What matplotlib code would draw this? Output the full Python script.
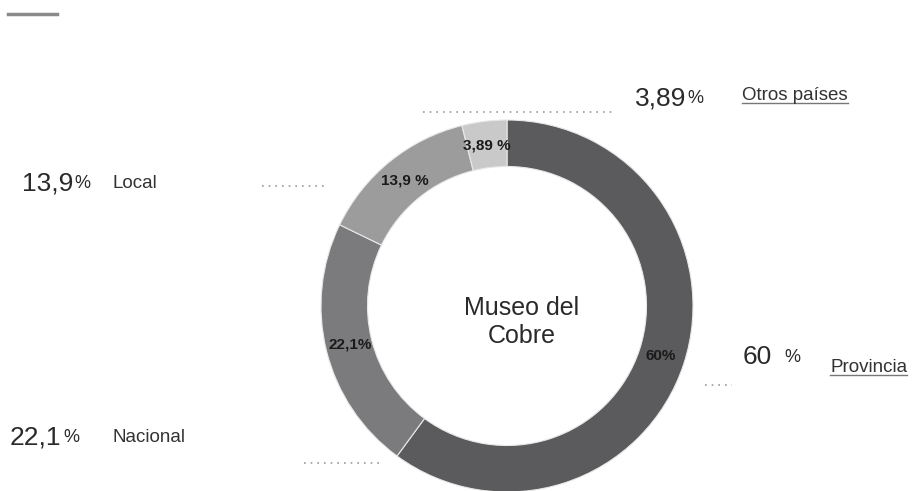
import numpy as np
import matplotlib.pyplot as plt

plt.rcParams['font.family'] = ['Liberation Sans', 'DejaVu Sans']

# 数据
categories = ["Provincia", "Nacional", "Local", "Otros países"]
values = [60, 22.1, 13.9, 3.89]
inner_labels = ["60%", "22,1%", "13,9 %", "3,89 %"]
outer_numbers = ["60", "22,1", "13,9", "3,89"]
colors = ["#5b5b5d", "#7b7b7d", "#9c9c9d", "#c9c9c9"]

W, H = 916, 491
fig = plt.figure(figsize=(W / 100, H / 100), dpi=100)
ax = fig.add_axes([0, 0, 1, 1])

# 环形图（像素坐标，y 向上）
cx, cy, R = 507, H - 306, 186
ring = 0.25
wedges, _ = ax.pie(
    values, colors=colors, startangle=90, counterclock=False,
    radius=R, center=(cx, cy),
    wedgeprops=dict(width=R * ring, edgecolor="#e8e8e8", linewidth=0.8),
)
ax.set_xlim(0, W)
ax.set_ylim(0, H)
ax.set_aspect("auto")
ax.axis("off")

# 环内标签
total = sum(values)
ang = 90.0
for val, lab in zip(values, inner_labels):
    span = 360.0 * val / total
    mid = np.deg2rad(ang - span / 2)
    r = R * 0.87
    ax.text(cx + r * np.cos(mid), cy + r * np.sin(mid), lab,
            ha="center", va="center", fontsize=11, fontweight="bold",
            color="#1a1a1a")
    ang -= span

ax.text(cx + 15, cy - 16, "Museo del\nCobre", ha="center", va="center",
        fontsize=18, color="#2a2a2a", linespacing=1.2)

# 外部标签：数字 + % + 类别
outer = {
    # 类别: (数字x, y, %间距, 类别x, 类别y, 下划线)
    "Otros países": (635, 98, 1, 742, 95, True),
    "Local": (22, 183, 1, 113, 183, False),
    "Provincia": (743, 357, 9, 830, 367, True),
    "Nacional": (10, 437, 1, 113, 437, False),
}
for cat, num in zip(categories, outer_numbers):
    nx, ny, gap, tx, ty, ul = outer[cat]
    tn = ax.text(nx, H - ny, num, ha="left", va="center", fontsize=19,
                 color="#2a2a2a")
    ax.annotate("%", xy=(1, 0.12), xycoords=tn, xytext=(gap, 0),
                textcoords="offset points", ha="left", va="bottom",
                fontsize=13, color="#2a2a2a")
    t = ax.text(tx, H - ty, cat, ha="left", va="center", fontsize=13.5,
                color="#333333")
    if ul:
        fig.canvas.draw()
        bb = t.get_window_extent()
        ax.plot([bb.x0, bb.x1], [bb.y0 + 1, bb.y0 + 1], color="#777777",
                linewidth=1)

# 点线引线
leaders = [(423, 615, 112), (262, 325, 186), (705, 732, 385), (304, 383, 463)]
for x0, x1, y in leaders:
    ax.plot([x0, x1], [H - y, H - y], linestyle=(0, (1, 3)),
            color="#9a9a9a", linewidth=1.2)

# 左上角短线
ax.plot([8, 57], [H - 14, H - 14], color="#8a8a8a", linewidth=2.5)

fig.savefig("out.png", dpi=100)
